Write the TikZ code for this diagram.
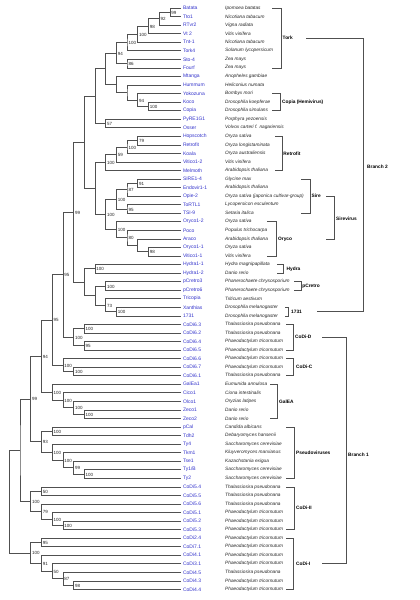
\documentclass[tikz,border=0pt]{standalone}
\usepackage{fontspec}
\setmainfont{Liberation Sans}
\usetikzlibrary{calc}
\definecolor{leafblue}{RGB}{51,51,204}
\definecolor{linegray}{RGB}{80,80,80}
\tikzset{
  br/.style={draw=linegray, line width=0.6pt},
  bk/.style={draw=linegray, line width=0.6pt},
  lname/.style={anchor=west, inner sep=0pt, text=leafblue, font=\fontsize{5}{6}\selectfont},
  sname/.style={anchor=west, inner sep=0pt, text=black!85, font=\fontsize{4.75}{6}\selectfont\itshape},
  bs/.style={anchor=west, inner sep=0pt, xshift=1.3pt, yshift=-0.6pt, font=\fontsize{4.5}{5}\selectfont, text=black!85},
  blab/.style={anchor=west, inner sep=0pt, font=\fontsize{4.8}{6}\selectfont\bfseries},
}
\newcommand\phyleaf[3]{%
  \pgfmathsetmacro\ly{8+8.55*(#1-1)}%
  \coordinate (e#1) at (181,\ly);
  \node[lname] (ln#1) at (182.8,\ly) {#2};
  \node[sname] (sp#1) at (225,\ly) {#3};
}
\newcommand\phynode[5]{%
  \pgfmathsetmacro\nx{9.3+10.7*#2}%
  \path let \p1=(#3), \p2=(#4) in ({\nx*1pt},{(\y1+\y2)/2}) coordinate (#1);
  \draw[br] (#3) -| (#1) |- (#4);
  \if\relax\detokenize{#5}\relax\else\node[bs] at (#1) {#5};\fi
}
\newcommand\phybrack[7]{%
  \pgfmathsetmacro\bya{8+8.55*(#2-1)}%
  \pgfmathsetmacro\byb{8+8.55*(#3-1)}%
  \pgfmathsetmacro\bym{(\bya+\byb)/2}%
  \draw[bk] (#5,\bya) -- (#4,\bya) -- (#4,\byb) -- (#5,\byb);
  \node[blab] (#1) at (#4+#6,\bym) {#7};
}
\begin{document}
\begin{tikzpicture}[x=1pt,y=-1pt]
\useasboundingbox (0,0) rectangle (420,600);
\fill[white] (0,0) rectangle (420,600);
% leaves
\phyleaf{1}{Batata}{Ipomoea batatas}
\phyleaf{2}{Tto1}{Nicotiana tabacum}
\phyleaf{3}{RTvr2}{Vigna radiata}
\phyleaf{4}{Vt 2}{Vitis vinifera}
\phyleaf{5}{Tnt-1}{Nicotiana tabacum}
\phyleaf{6}{Tork4}{Solanum lycopersicum}
\phyleaf{7}{Sto-4}{Zea mays}
\phyleaf{8}{Fourf}{Zea mays}
\phyleaf{9}{Mtanga}{Anopheles gambiae}
\phyleaf{10}{Hummum}{Heliconius numata}
\phyleaf{11}{Yokozuna}{Bombyx mori}
\phyleaf{12}{Koco}{Drosophila koepferae}
\phyleaf{13}{Copia}{Drosophila simulans}
\phyleaf{14}{PyRE1G1}{Porphyra yezoensis}
\phyleaf{15}{Osser}{Volvox carteri f. nagariensis}
\phyleaf{16}{Hopscotch}{Oryza sativa}
\phyleaf{17}{Retrofit}{Oryza longistaminata}
\phyleaf{18}{Koala}{Oryza australiensis}
\phyleaf{19}{Vitico1-2}{Vitis vinifera}
\phyleaf{20}{Melmoth}{Arabidopsis thaliana}
\phyleaf{21}{SIRE1-4}{Glycine max}
\phyleaf{22}{Endovir1-1}{Arabidopsis thaliana}
\phyleaf{23}{Opie-2}{Oryza sativa (japonica cultivar-group)}
\phyleaf{24}{ToRTL1}{Lycopersicon esculentum}
\phyleaf{25}{TSI-9}{Setaria italica}
\phyleaf{26}{Oryco1-2}{Oryza sativa}
\phyleaf{27}{Poco}{Populus trichocarpa}
\phyleaf{28}{Araco}{Arabidopsis thaliana}
\phyleaf{29}{Oryco1-1}{Oryza sativa}
\phyleaf{30}{Vitico1-1}{Vitis vinifera}
\phyleaf{31}{Hydra1-1}{Hydra magnipapillata}
\phyleaf{32}{Hydra1-2}{Danio rerio}
\phyleaf{33}{pCretro3}{Phanerochaete chrysosporium}
\phyleaf{34}{pCretro6}{Phanerochaete chrysosporium}
\phyleaf{35}{Tricopia}{Triticum aestivum}
\phyleaf{36}{Xanthias}{Drosophila melanogaster}
\phyleaf{37}{1731}{Drosophila melanogaster}
\phyleaf{38}{CoDi6.3}{Thalassiosira pseudonana}
\phyleaf{39}{CoDi6.2}{Thalassiosira pseudonana}
\phyleaf{40}{CoDi6.4}{Phaeodactylum tricornutum}
\phyleaf{41}{CoDi6.5}{Phaeodactylum tricornutum}
\phyleaf{42}{CoDi6.6}{Phaeodactylum tricornutum}
\phyleaf{43}{CoDi6.7}{Phaeodactylum tricornutum}
\phyleaf{44}{CoDi6.1}{Thalassiosira pseudonana}
\phyleaf{45}{GalEa1}{Eumunida annulosa}
\phyleaf{46}{Cico1}{Ciona intestinalis}
\phyleaf{47}{Olco1}{Oryzias latipes}
\phyleaf{48}{Zeco1}{Danio rerio}
\phyleaf{49}{Zeco2}{Danio rerio}
\phyleaf{50}{pCal}{Candida albicans}
\phyleaf{51}{Tdh2}{Debaryomyces hansenii}
\phyleaf{52}{Ty4}{Saccharomyces cerevisiae}
\phyleaf{53}{Tkm1}{Kluyveromyces marxianus}
\phyleaf{54}{Tse1}{Kazachstania exigua}
\phyleaf{55}{Ty1/B}{Saccharomyces cerevisiae}
\phyleaf{56}{Ty2}{Saccharomyces cerevisiae}
\phyleaf{57}{CoDi5.4}{Thalassiosira pseudonana}
\phyleaf{58}{CoDi5.5}{Thalassiosira pseudonana}
\phyleaf{59}{CoDi5.6}{Thalassiosira pseudonana}
\phyleaf{60}{CoDi5.1}{Phaeodactylum tricornutum}
\phyleaf{61}{CoDi5.2}{Phaeodactylum tricornutum}
\phyleaf{62}{CoDi5.3}{Phaeodactylum tricornutum}
\phyleaf{63}{CoDi2.4}{Phaeodactylum tricornutum}
\phyleaf{64}{CoDi7.1}{Phaeodactylum tricornutum}
\phyleaf{65}{CoDi4.1}{Phaeodactylum tricornutum}
\phyleaf{66}{CoDi3.1}{Phaeodactylum tricornutum}
\phyleaf{67}{CoDi4.5}{Thalassiosira pseudonana}
\phyleaf{68}{CoDi4.3}{Phaeodactylum tricornutum}
\phyleaf{69}{CoDi4.4}{Phaeodactylum tricornutum}
% Tork clade
\phynode{t1}{15}{e1}{e2}{99}
\phynode{t2}{14}{t1}{e3}{92}
\phynode{t3}{13}{t2}{e4}{98}
\phynode{t4}{12}{t3}{e5}{100}
\phynode{t5}{11}{t4}{e6}{100}
\phynode{t6}{11}{e7}{e8}{86}
\phynode{t7}{10}{t5}{t6}{94}
% Copia etc.
\phynode{c1}{13}{e12}{e13}{100}
\phynode{c2}{12}{e11}{c1}{94}
\phynode{c3}{11}{e10}{c2}{}
\phynode{c4}{10}{e9}{c3}{}
\phynode{a1}{9}{t7}{c4}{}
\phynode{a2}{9}{e14}{e15}{57}
\phynode{a3}{8}{a1}{a2}{}
% Retrofit
\phynode{r1}{12}{e16}{e17}{79}
\phynode{r2}{11}{r1}{e18}{100}
\phynode{r3}{10}{r2}{e19}{59}
\phynode{r4}{9}{r3}{e20}{100}
% Sire
\phynode{s1}{12}{e21}{e22}{91}
\phynode{s2}{11}{s1}{e23}{87}
\phynode{s3}{11}{e24}{e25}{95}
\phynode{s4}{10}{s2}{s3}{100}
% Oryco
\phynode{o1}{13}{e29}{e30}{98}
\phynode{o2}{12}{e28}{o1}{}
\phynode{o3}{11}{e27}{o2}{80}
\phynode{o4}{10}{e26}{o3}{100}
\phynode{sv}{9}{s4}{o4}{100}
\phynode{b1}{8}{r4}{sv}{}
\phynode{b2}{7}{a3}{b1}{}
% Hydra, pCretro, 1731
\phynode{h1}{8}{e31}{e32}{100}
\phynode{p1}{9}{e33}{e34}{100}
\phynode{x1}{10}{e36}{e37}{100}
\phynode{x2}{9}{e35}{x1}{73}
\phynode{v1}{8}{p1}{x2}{}
\phynode{u1}{7}{h1}{v1}{}
\phynode{T}{6}{b2}{u1}{99}
% CoDi-D
\phynode{d1}{7}{e38}{e39}{100}
\phynode{d2}{7}{e40}{e41}{95}
\phynode{d3}{6}{d1}{d2}{100}
\phynode{S}{5}{T}{d3}{95}
% CoDi-C
\phynode{cc1}{6}{e43}{e44}{100}
\phynode{cc2}{5}{e42}{cc1}{100}
\phynode{R}{4}{S}{cc2}{95}
% GalEA
\phynode{g1}{7}{e48}{e49}{100}
\phynode{g2}{6}{e47}{g1}{100}
\phynode{g3}{5}{e46}{g2}{100}
\phynode{g4}{4}{e45}{g3}{100}
\phynode{Q}{3}{R}{g4}{94}
% Pseudoviruses
\phynode{ps1}{4}{e50}{e51}{100}
\phynode{ps2}{7}{e55}{e56}{100}
\phynode{ps3}{6}{e54}{ps2}{99}
\phynode{ps4}{5}{e53}{ps3}{100}
\phynode{ps5}{4}{e52}{ps4}{100}
\phynode{ps6}{3}{ps1}{ps5}{93}
\phynode{P}{2}{Q}{ps6}{99}
% CoDi-II
\phynode{k1}{3}{e57}{e58}{50}
\phynode{k2}{5}{e61}{e62}{100}
\phynode{k3}{4}{e60}{k2}{100}
\phynode{k4}{3}{e59}{k3}{79}
\phynode{k5}{2}{k1}{k4}{100}
\phynode{D1}{1}{P}{k5}{}
% CoDi-I
\phynode{i1}{3}{e63}{e64}{95}
\phynode{i2}{6}{e68}{e69}{98}
\phynode{i3}{5}{e67}{i2}{87}
\phynode{i4}{4}{e66}{i3}{50}
\phynode{i5}{3}{e65}{i4}{91}
\phynode{i6}{2}{i1}{i5}{100}
\phynode{root}{0}{D1}{i6}{}
% clade brackets
\phybrack{tork}{1}{8}{281}{272}{1.5}{Tork}
\phybrack{copia}{11}{13}{280}{272}{2}{Copia (Hemivirus)}
\phybrack{retro}{16}{20}{282}{275}{1.2}{Retrofit}
\phybrack{sire}{21}{25}{310}{301}{1.5}{Sire}
\phybrack{oryco}{26}{30}{276}{267}{2}{Oryco}
\phybrack{hydra}{31}{32}{283}{277}{3.5}{Hydra}
\phybrack{pcretro}{33}{34}{301}{294}{1.2}{pCretro}
\phybrack{g1731}{36}{37}{288}{285}{3}{1731}
\phybrack{cdD}{38}{41}{293}{286}{2}{CoDi-D}
\phybrack{cdC}{42}{44}{293}{286}{3}{CoDi-C}
\phybrack{galea}{45}{49}{277}{270}{2}{GalEA}
\phybrack{pseudo}{50}{56}{294}{286}{2}{Pseudoviruses}
\phybrack{cdII}{57}{62}{294}{286}{2}{CoDi-II}
\phybrack{cdI}{63}{69}{293}{286}{3}{CoDi-I}
% Sirevirus
\coordinate (svT) at (326,0);
\coordinate (svV) at (334,0);
\draw[bk] (sire -| svT) -- (sire -| svV) -- (oryco -| svV) -- (oryco -| svT);
\node[blab] (sirev) at ($(sire -| svV)!0.5!(oryco -| svV)+(2,1.5)$) {Sirevirus};
% Branch 2
\coordinate (b2a) at (306,0);
\coordinate (b2b) at (317,0);
\coordinate (b2V) at (363,0);
\draw[bk] (tork -| b2a) -- (tork -| b2V) -- (g1731 -| b2V) -- (g1731 -| b2b);
\node[blab] (branch2) at (367,167) {Branch 2};
% Branch 1
\coordinate (b1a) at (322,0);
\coordinate (b1V) at (346,0);
\draw[bk] (cdD -| b1a) -- (cdD -| b1V) -- (cdI -| b1V) -- (cdI -| b1a);
\node[blab] (branch1) at (348,455) {Branch 1};
\end{tikzpicture}
\end{document}
